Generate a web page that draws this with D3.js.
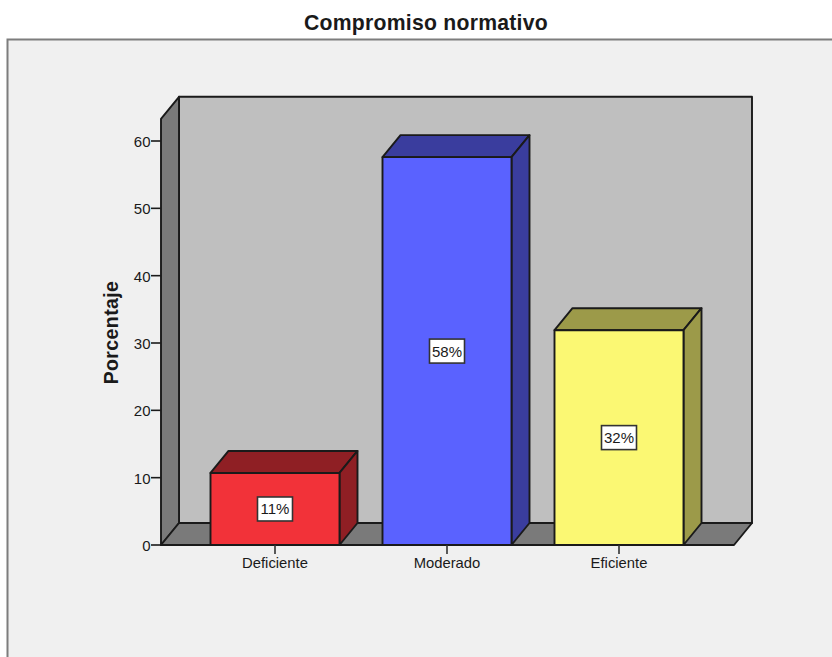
<!DOCTYPE html>
<html><head><meta charset="utf-8">
<script src="https://cdn.jsdelivr.net/npm/d3@7/dist/d3.min.js"></script>
<style>html,body{margin:0;padding:0;background:#fff}svg{display:block}text{font-family:"Liberation Sans",Arial,sans-serif;fill:#1a1a1a}</style>
</head><body><svg id="c" width="832" height="657"></svg>
<script>
const categories = ["Deficiente","Moderado","Eficiente"];
const values = [10.7,57.6,31.9];
const labels = ["11%","58%","32%"];
const frontColors = ["#f23239","#5a62ff","#fbf873"];
const sideColors = ["#8f1f24","#3a3d9e","#9c9a49"];
const yTicks = [0,10,20,30,40,50,60];
const yMax = 63.3;
const title = "Compromiso normativo";
const yTitle = "Porcentaje";

const W=832,H=657, depthX=18, depthY=22;
const x0=161,x1=734,yBase=545;
const svg=d3.select("#c");
const y=d3.scaleLinear().domain([0,60]).range([yBase,141]);
const x=d3.scaleBand().domain(categories).range([189,705]).paddingInner(0.25).paddingOuter(0.125);
const line=d3.line();
const stroke="#1a1a1a";

svg.append("rect").attr("x",7.5).attr("y",39.5).attr("width",W).attr("height",H).attr("fill","#f0f0f0").attr("stroke","#7d7d7d").attr("stroke-width",2);
svg.append("text").attr("x",426).attr("y",29.5).attr("text-anchor","middle").attr("font-size",21.2).attr("font-weight",700).attr("letter-spacing",0.25).text(title);

const poly=(pts,fill)=>svg.append("path").attr("d",line(pts)+"Z").attr("fill",fill).attr("stroke",stroke).attr("stroke-width",1.9).attr("stroke-linejoin","round");
const wallTop=y(yMax);
// back wall
poly([[x0+depthX,wallTop-depthY],[x1+depthX,wallTop-depthY],[x1+depthX,yBase-depthY],[x0+depthX,yBase-depthY]],"#bfbfbf");
// side wall
poly([[x0,wallTop],[x0+depthX,wallTop-depthY],[x0+depthX,yBase-depthY],[x0,yBase]],"#7a7a7a");
// floor
poly([[x0,yBase],[x0+depthX,yBase-depthY],[x1+depthX,yBase-depthY],[x1,yBase]],"#7a7a7a");

// bars
categories.forEach((c,i)=>{
  const bx=x(c),bw=x.bandwidth(),by=y(values[i]);
  poly([[bx,by],[bx+depthX,by-depthY],[bx+bw+depthX,by-depthY],[bx+bw,by]],sideColors[i]);
  poly([[bx+bw,by],[bx+bw+depthX,by-depthY],[bx+bw+depthX,yBase-depthY],[bx+bw,yBase]],sideColors[i]);
  poly([[bx,by],[bx+bw,by],[bx+bw,yBase],[bx,yBase]],frontColors[i]);
  const cx=bx+bw/2, cy=(by+yBase)/2;
  svg.append("rect").attr("x",cx-17.5).attr("y",cy-12).attr("width",35).attr("height",24).attr("fill","#fff").attr("stroke","#333").attr("stroke-width",1.6);
  svg.append("text").attr("x",cx).attr("y",cy+5.5).attr("text-anchor","middle").attr("font-size",15).text(labels[i]);
});

// y axis
const ya=svg.append("g");
yTicks.forEach(t=>{
  ya.append("path").attr("d",line([[151,y(t)],[x0,y(t)]])).attr("stroke",stroke).attr("stroke-width",1.6);
  ya.append("text").attr("x",150.5).attr("y",y(t)+6).attr("text-anchor","end").attr("font-size",15).text(t);
});
// x axis
categories.forEach(c=>{
  const cx=x(c)+x.bandwidth()/2;
  svg.append("path").attr("d",line([[cx,yBase],[cx,yBase+9]])).attr("stroke","#333").attr("stroke-width",1.6);
  svg.append("text").attr("x",cx).attr("y",yBase+23).attr("text-anchor","middle").attr("font-size",14.8).text(c);
});
svg.append("text").attr("transform","translate(118,332.5) rotate(-90)").attr("text-anchor","middle").attr("font-size",19.5).attr("font-weight",700).attr("letter-spacing",0.4).text(yTitle);
</script></body></html>
